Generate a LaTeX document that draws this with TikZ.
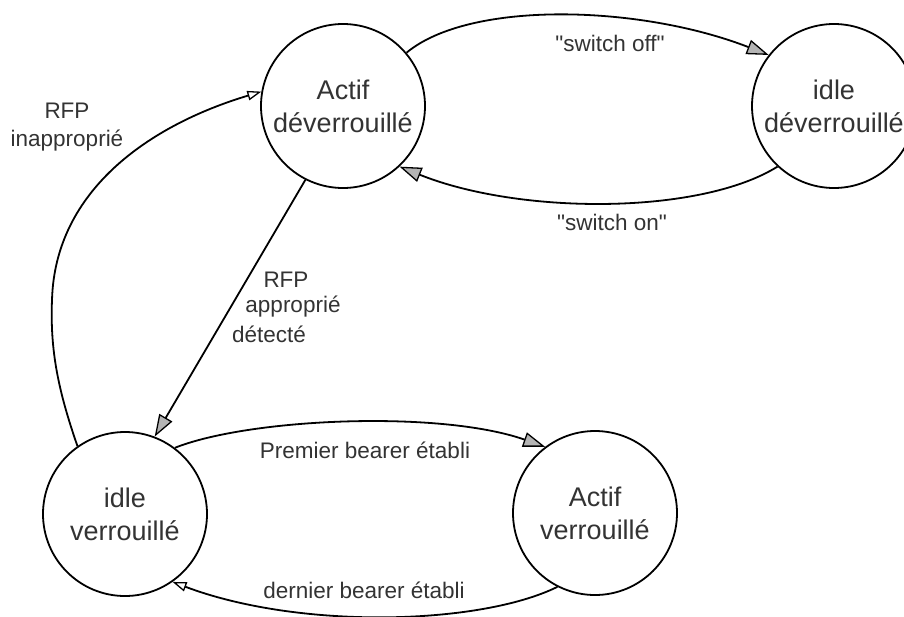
\documentclass[tikz,border=0pt]{standalone}
\usepackage{fontspec}
\setmainfont{Liberation Sans}
\newfontfamily\plainq{Liberation Sans}
\usetikzlibrary{arrows.meta}
\definecolor{txt}{HTML}{333333}
\definecolor{headfill}{HTML}{B4B4B4}
\tikzset{
  state/.style={circle,draw=black,line width=1.8pt,minimum size=164pt,inner sep=0pt,
    align=center,text=txt,font=\fontsize{27}{33}\selectfont},
  lbl/.style={text=txt,font=\plainq\fontsize{22.5}{28}\selectfont,inner sep=0pt,align=center},
  conn/.style={line width=1.8pt,draw=black},
  bighead/.style={-{Triangle[length=22pt,width=15pt,fill=headfill,line width=1.3pt]}},
  smallhead/.style={-{Triangle[length=14pt,width=9.5pt,fill=white,line width=1.3pt]}}
}
\begin{document}
\begin{tikzpicture}[x=1pt,y=-1pt]
\useasboundingbox[fill=white] (0,0) rectangle (904,616);
\node[state] (AD) at (343,106) {Actif\\déverrouillé};
\node[state] (ID) at (834,106) {idle\\déverrouillé};
\node[state] (IV) at (125,514) {idle\\verrouillé};
\node[state] (AV) at (595,513) {Actif\\verrouillé};

% switch off
\draw[conn,bighead] (AD.40) .. controls (470,0) and (640,5) .. (ID.142);
% switch on
\draw[conn,bighead] (ID.227) .. controls (700,215) and (520,215) .. (AD.313);
% RFP inapproprie
\draw[conn,smallhead] (IV.125) .. controls (58,390) and (50,350) .. (52,300)
   .. controls (55,190) and (150,125) .. (AD.170);
% RFP approprie detecte
\draw[conn,bighead] (AD.243) -- (IV.69);
% Premier bearer
\draw[conn,bighead] (IV.53) .. controls (250,418) and (440,410) .. (AV.127);
% dernier bearer
\draw[conn,smallhead] (AV.243) .. controls (480,625) and (300,630) .. (IV.305);

\node[lbl] (l1) at (610,43) {"switch off"};
\node[lbl] (l2) at (612,222) {"switch on"};
\node[lbl] (l3) at (67,127) {RFP\\inapproprié};
\node[lbl] (l4a) at (286,280) {RFP};
\node[lbl] (l4b) at (293,307) {approprié};
\node[lbl] (l4c) at (269,334) {détecté};
\node[lbl] (l5) at (365,450) {Premier bearer établi};
\node[lbl] (l6) at (364,590) {dernier bearer établi};
\end{tikzpicture}
\end{document}
